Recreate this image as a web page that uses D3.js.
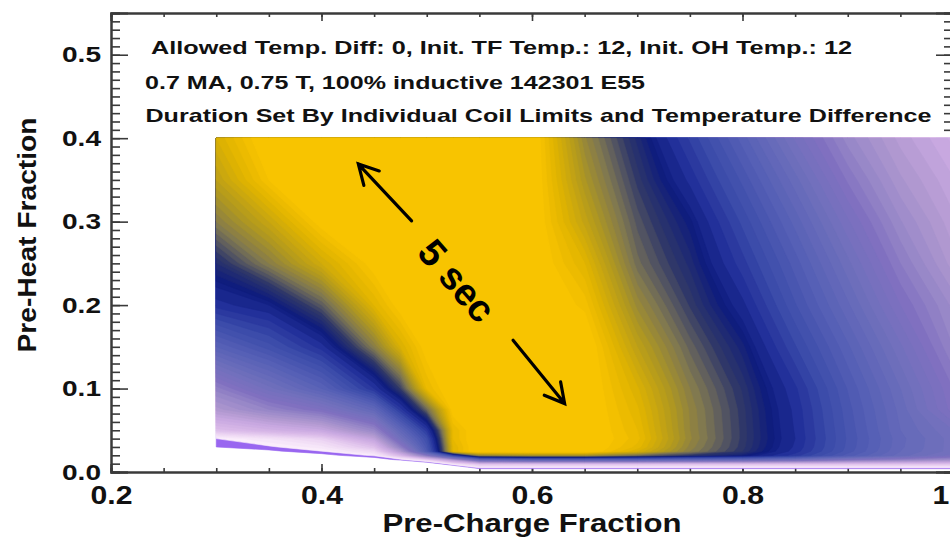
<!DOCTYPE html>
<html>
<head>
<meta charset="utf-8">
<script src="https://d3js.org/d3.v7.min.js"></script>
<style>
  body { margin: 0; background: #fff; }
  svg { display: block; font-family: 'Liberation Sans', Arial, Helvetica, sans-serif; font-weight: bold; }
</style>
</head>
<body>
<svg id="chart"></svg>
<script>
// grid the durations were read on (extra columns near the sharp corner at 0.5)
const preCharge = [0.30, 0.35, 0.40, 0.45, 0.475, 0.50, 0.525, 0.55, 0.60, 0.65, 0.70, 0.75, 0.80, 0.85, 0.90, 0.95, 1.00];
const preHeat = [0, 0.005, 0.010, 0.015, 0.020, 0.025, 0.030, 0.040, 0.050, 0.075, 0.10, 0.15, 0.20, 0.25, 0.30, 0.35, 0.40];

// flat-top duration (s), one row per pre-heat value, bottom row first. negative = no solution (left white)
const dur000 = [-1, -1, -1, -1, -1, -1, -1, -0.6, -0.6, -0.6, -0.6, -0.6, -0.6, -0.6, -0.6, -0.6, -0.6];
const dur005 = [-1, -1, -1, -1, -1, -1, -0.5, 0.15, 0.15, 0.15, 0.15, 0.15, 0.15, 0.15, 0.15, 0.15, 0.15];
const dur010 = [-1, -1, -1, -1, -0.6, -0.3, 0.35, 0.8, 0.8, 0.8, 0.8, 0.8, 0.8, 0.8, 0.8, 0.8, 0.8];
const dur015 = [-1, -1, -1, -0.2, 0.1, 0.6, 1.5, 2.6, 2.8, 2.8, 2.8, 2.7, 2.6, 2.4, 2.1, 1.9, 1.7];
const dur020 = [-1, -1, -0.1, 0.2, 0.9, 2.0, 3.3, 4.3, 4.4, 4.4, 4.2, 4.0, 3.85, 3.5, 3.0, 2.6, 2.3];
const dur025 = [-1, -0.05, 0.15, 0.5, 1.5, 3.0, 4.75, 5, 5, 5, 4.7, 4.3, 4.0, 3.6, 3.1, 2.65, 2.4];
const dur030 = [0, 0.12, 0.3, 0.8, 1.9, 3.1, 4.75, 5, 5, 5, 4.78, 4.33, 4.02, 3.63, 3.12, 2.67, 2.4];
const dur040 = [0.15, 0.35, 0.6, 1.3, 2.4, 3.25, 4.8, 5, 5, 5, 4.82, 4.36, 4.03, 3.65, 3.13, 2.68, 2.4];
const dur050 = [0.8, 1.0, 1.2, 1.8, 2.7, 3.5, 4.8, 5, 5, 5, 4.8, 4.35, 4.03, 3.64, 3.12, 2.65, 2.35];
const dur075 = [1.5, 1.85, 2.15, 2.7, 3.5, 4.2, 4.95, 5, 5, 5, 4.76, 4.34, 4.02, 3.62, 3.09, 2.61, 2.1];
const dur100 = [1.9, 2.4, 2.85, 3.55, 4.05, 4.8, 5, 5, 5, 5, 4.71, 4.3, 3.99, 3.57, 3.04, 2.55, 2.05];
const dur150 = [2.85, 3.2, 3.6, 4.3, 4.7, 4.95, 5, 5, 5, 5, 4.55, 4.18, 3.87, 3.36, 2.87, 2.37, 1.85];
const dur200 = [3.6, 3.75, 4.15, 4.75, 4.95, 5, 5, 5, 5, 4.88, 4.38, 4.04, 3.68, 3.16, 2.67, 2.15, 1.72];
const dur250 = [3.95, 4.3, 4.65, 4.95, 5, 5, 5, 5, 5, 4.75, 4.22, 3.93, 3.49, 3.0, 2.48, 1.95, 1.5];
const dur300 = [4.3, 4.6, 4.95, 5, 5, 5, 5, 5, 5, 4.58, 4.13, 3.82, 3.32, 2.81, 2.27, 1.76, 1.38];
const dur350 = [4.55, 4.9, 5, 5, 5, 5, 5, 5, 5, 4.46, 4.03, 3.62, 3.12, 2.59, 2.03, 1.57, 1.26];
const dur400 = [4.7, 5, 5, 5, 5, 5, 5, 5, 5, 4.36, 3.93, 3.43, 2.9, 2.33, 1.8, 1.41, 1.12];
const durationRows = [dur000, dur005, dur010, dur015, dur020, dur025, dur030, dur040, dur050,
  dur075, dur100, dur150, dur200, dur250, dur300, dur350, dur400];

// colour table (duration -> colour), lowest level is drawn violet
const colorStops = [0.15, 0.5, 0.9, 1.2, 1.5, 1.8, 2.1, 2.45, 2.9, 3.3, 3.6, 3.82, 4.03, 4.15, 4.27, 4.48, 4.74, 4.9, 5.0];
const colorValues = ['#fcf0fc', '#eed8f4', '#d8b8e8', '#c8a8e0', '#b098d0', '#9888c8', '#8070c0', '#7070bc',
  '#5660b6', '#3c4caa', '#22309a', '#0e1c7e', '#303868', '#5a5a60', '#807850', '#b09820', '#e0b400',
  '#f6c200', '#f8c400'];
const lowestColor = '#9966f0';

const xMajorTicks = [0.2, 0.4, 0.6, 0.8, 1.0];
const yMajorTicks = [0, 0.1, 0.2, 0.3, 0.4, 0.5];

const infoLines = [
  'Allowed Temp. Diff: 0, Init. TF Temp.: 12, Init. OH Temp.: 12',
  '0.7 MA, 0.75 T, 100% inductive 142301 E55',
  'Duration Set By Individual Coil Limits and Temperature Difference'
];

// "5 sec" arrows, [tail, tip] in data units
const arrowSegments = [
  [[0.4856, 0.301], [0.435, 0.369]],
  [[0.582, 0.158], [0.631, 0.082]]
];

class ContourPlot {

  constructor(_config) {
    this.config = {
      parentElement: _config.parentElement,
      containerWidth: _config.containerWidth || 950,
      containerHeight: _config.containerHeight || 539
    };
    this.initVis();
  }

  initVis() {
    let vis = this;

    vis.svg = d3.select(vis.config.parentElement)
        .attr('width', vis.config.containerWidth)
        .attr('height', vis.config.containerHeight);

    // plot box: x 0.2..1.0, y 0..0.55 (right edge falls just outside the picture)
    vis.xScale = d3.scaleLinear().domain([0.2, 1.0]).range([111, 953]);
    vis.yScale = d3.scaleLinear().domain([0, 0.55]).range([472, 13]);

    vis.colorScale = d3.scaleLinear()
        .domain(colorStops)
        .range(colorValues)
        .interpolate(d3.interpolateRgb)
        .clamp(true);

    vis.axesG = vis.svg.append('g').attr('class', 'axes');
    vis.contourG = vis.svg.append('g').attr('class', 'contours');
    vis.annoG = vis.svg.append('g').attr('class', 'annotations');

    vis.renderVis();
  }

  renderVis() {
    let vis = this;
    const nx = preCharge.length, ny = preHeat.length;

    // grid index -> data value (piecewise linear, grid isn't uniform)
    const ix = d3.scaleLinear().domain(d3.range(nx)).range(preCharge).clamp(true);
    const iy = d3.scaleLinear().domain(d3.range(ny)).range(preHeat).clamp(true);
    const proj = d3.geoTransform({
      point: function(px, py) {
        this.stream.point(vis.xScale(ix(px - 0.5)), vis.yScale(iy(py - 0.5)));
      }
    });
    const path = d3.geoPath(proj);

    const values = durationRows.flat();
    // 0.1 s levels, finer where the colours change fast (navy -> gold)
    const thresholds = [0, 0.15].concat(d3.range(0.25, 3.76, 0.1), d3.range(3.8, 4.86, 0.05), [4.9]);

    const contours = d3.contours()
        .size([nx, ny])
        .thresholds(thresholds)(values);

    const fillFor = (t, i) => {
      if (t === 0) return lowestColor;
      if (t >= 4.9) return vis.colorScale(5);
      const next = thresholds[i + 1];
      return vis.colorScale((t + next) / 2);
    };

    // axes first, the filled contours sit on top of the right-hand ticks
    vis.drawAxes();

    vis.contourG.selectAll('path')
        .data(contours)
      .join('path')
        .attr('d', path)
        .attr('fill', (d, i) => fillFor(d.value, i))
        .attr('stroke', (d, i) => fillFor(d.value, i))
        .attr('stroke-width', 0.6)
        .attr('stroke-linejoin', 'round');

    vis.drawAnnotations();
  }

  drawAxes() {
    let vis = this;
    const g = vis.axesG;
    const axisColor = '#3a3a3a';
    const h = vis.yScale.range()[0];
    const top = vis.yScale.range()[1];
    const right = vis.xScale.range()[1];
    const left = vis.xScale.range()[0];

    const yMinor = d3.range(0, 56).map(i => i / 100);
    const xMinor = d3.range(0, 17).map(i => 0.2 + i * 0.05);

    // left
    g.append('g').attr('transform', `translate(${left},0)`)
        .call(d3.axisLeft(vis.yScale).tickValues(yMinor).tickSize(-9).tickFormat(''));
    const yAxisG = g.append('g').attr('transform', `translate(${left},0)`)
        .call(d3.axisLeft(vis.yScale).tickValues(yMajorTicks).tickSize(-17).tickPadding(10)
          .tickFormat(d3.format('.1f')));
    yAxisG.selectAll('text')
        .attr('font-size', 22)
        .attr('textLength', 39)
        .attr('lengthAdjust', 'spacingAndGlyphs');

    // right (mirror, no labels)
    g.append('g').attr('transform', `translate(${right},0)`)
        .call(d3.axisRight(vis.yScale).tickValues(yMinor).tickSize(-9).tickFormat(''));
    g.append('g').attr('transform', `translate(${right},0)`)
        .call(d3.axisRight(vis.yScale).tickValues(yMajorTicks).tickSize(-17).tickFormat(''));

    // bottom
    g.append('g').attr('transform', `translate(0,${h})`)
        .call(d3.axisBottom(vis.xScale).tickValues(xMinor).tickSize(-4).tickFormat(''));
    const xAxisG = g.append('g').attr('transform', `translate(0,${h})`)
        .call(d3.axisBottom(vis.xScale).tickValues(xMajorTicks).tickSize(-8).tickPadding(14)
          .tickFormat(d3.format('.1f')));
    xAxisG.selectAll('text')
        .attr('font-size', 25)
        .attr('textLength', 42)
        .attr('lengthAdjust', 'spacingAndGlyphs');

    // top
    g.append('g').attr('transform', `translate(0,${top})`)
        .call(d3.axisTop(vis.xScale).tickValues(xMinor).tickSize(-4).tickFormat(''));
    g.append('g').attr('transform', `translate(0,${top})`)
        .call(d3.axisTop(vis.xScale).tickValues(xMajorTicks).tickSize(-8).tickFormat(''));

    g.selectAll('.domain, .tick line')
        .attr('stroke', axisColor)
        .attr('stroke-width', 1.6);
    g.selectAll('.tick text').attr('fill', '#111').attr('font-weight', 'bold');
    g.selectAll('.domain').attr('stroke-width', 2);

    // axis titles
    g.append('text')
        .attr('x', 532)
        .attr('y', 532)
        .attr('text-anchor', 'middle')
        .attr('font-size', 25)
        .attr('textLength', 299)
        .attr('lengthAdjust', 'spacingAndGlyphs')
        .attr('fill', '#111')
        .text('Pre-Charge Fraction');

    g.append('text')
        .attr('transform', 'translate(36,235) rotate(-90)')
        .attr('text-anchor', 'middle')
        .attr('font-size', 25)
        .attr('textLength', 235)
        .attr('lengthAdjust', 'spacingAndGlyphs')
        .attr('fill', '#111')
        .text('Pre-Heat Fraction');

    // info lines in the top of the box
    const infoPos = [[151, 54, 701], [145, 88.5, 500], [145.5, 122, 786]];
    g.selectAll('.info')
        .data(infoLines)
      .join('text')
        .attr('class', 'info')
        .attr('x', (d, i) => infoPos[i][0])
        .attr('y', (d, i) => infoPos[i][1])
        .attr('textLength', (d, i) => infoPos[i][2])
        .attr('lengthAdjust', 'spacingAndGlyphs')
        .attr('font-size', 19)
        .attr('fill', '#111')
        .text(d => d);
  }

  drawAnnotations() {
    let vis = this;
    const a = vis.annoG;

    arrowSegments.forEach(seg => {
      const x0 = vis.xScale(seg[0][0]), y0 = vis.yScale(seg[0][1]);
      const x1 = vis.xScale(seg[1][0]), y1 = vis.yScale(seg[1][1]);
      const ang = Math.atan2(y0 - y1, x0 - x1);
      const len = 22, spread = 0.5;
      const hx1 = x1 + len * Math.cos(ang + spread), hy1 = y1 + len * Math.sin(ang + spread);
      const hx2 = x1 + len * Math.cos(ang - spread), hy2 = y1 + len * Math.sin(ang - spread);
      a.append('path')
          .attr('d', `M${x0},${y0}L${x1},${y1}M${hx1},${hy1}L${x1},${y1}L${hx2},${hy2}`)
          .attr('fill', 'none')
          .attr('stroke', '#000')
          .attr('stroke-width', 3.2)
          .attr('stroke-linecap', 'round')
          .attr('stroke-linejoin', 'miter');
    });

    const cx = vis.xScale(0.5286), cy = vis.yScale(0.229);
    a.append('text')
        .attr('transform', `translate(${cx},${cy}) rotate(49)`)
        .attr('text-anchor', 'middle')
        .attr('dominant-baseline', 'central')
        .attr('font-size', 38)
        .attr('fill', '#000')
        .text('5 sec');
  }
}

const plot = new ContourPlot({ parentElement: '#chart' });
</script>
</body>
</html>
